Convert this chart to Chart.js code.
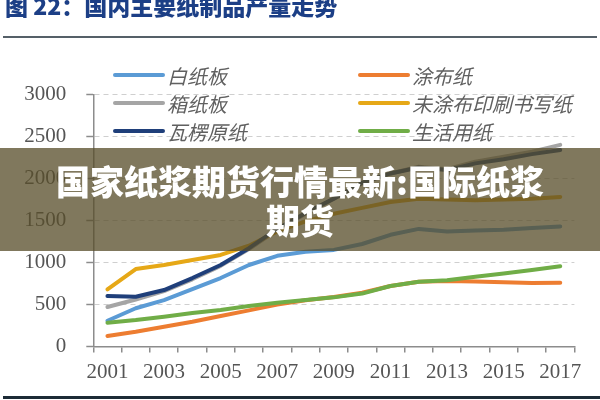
<!DOCTYPE html>
<html>
<head>
<meta charset="utf-8">
<script src="https://cdn.jsdelivr.net/npm/chart.js@4.4.1/dist/chart.umd.min.js"></script>
<style>
  html, body { margin: 0; padding: 0; background: #fff; }
  #wrap { width: 600px; height: 400px; }
</style>
</head>
<body>
<div id="wrap"><canvas id="paperChart"></canvas></div>
<script>
// 国内主要纸制品产量走势 (万吨)
const years = ['2001', '2002', '2003', '2004', '2005', '2006', '2007', '2008', '2009',
               '2010', '2011', '2012', '2013', '2014', '2015', '2016', '2017'];
const xTickLabels = ['2001', '2003', '2005', '2007', '2009', '2011', '2013', '2015', '2017'];
const yTicks = [0, 500, 1000, 1500, 2000, 2500, 3000];

const seriesNames = ['白纸板', '涂布纸', '箱纸板', '未涂布印刷书写纸', '瓦楞原纸', '生活用纸'];
const baiZhiBan   = [307, 455, 553, 684, 815, 970, 1080, 1128, 1150, 1220, 1330, 1400, 1370, 1380, 1390, 1410, 1430];
const tuBuZhi     = [125, 176, 236, 295, 363, 430, 500, 550, 590, 640, 720, 770, 780, 775, 765, 755, 760];
const xiangZhiBan = [470, 560, 660, 800, 960, 1160, 1390, 1580, 1760, 1940, 2060, 2140, 2110, 2200, 2260, 2320, 2400];
const weiTuBu     = [680, 922, 970, 1030, 1090, 1200, 1370, 1490, 1580, 1650, 1720, 1760, 1750, 1740, 1750, 1760, 1780];
const waLeng      = [600, 593, 672, 815, 970, 1170, 1400, 1590, 1760, 1950, 2060, 2130, 2100, 2180, 2230, 2290, 2340];
const shengHuo    = [283, 315, 355, 398, 434, 482, 521, 553, 585, 630, 720, 770, 790, 830, 870, 910, 955];

const seriesValues = [baiZhiBan, tuBuZhi, xiangZhiBan, weiTuBu, waLeng, shengHuo];
const seriesColors = ['#5b9bd5', '#ed7d31', '#a5a5a5', '#e6a817', '#1f3f7a', '#70ad47'];

const titleText = '图 22：国内主要纸制品产量走势';
const bannerLines = ['国家纸浆期货行情最新:国际纸浆', '期货'];

const datasets = seriesNames.map((name, i) => ({
    label: name,
    data: seriesValues[i],
    borderColor: seriesColors[i],
    backgroundColor: seriesColors[i],
    borderWidth: 4,
    pointRadius: 0,
    tension: 0,
    borderJoinStyle: 'round',
    borderCapStyle: 'round',
    order: seriesNames.length - 1 - i   // later series drawn on top
}));

// legend in two columns, title, rules and the overlay banner
const decor = {
    id: 'decor',
    afterDatasetsDraw(chart) {
        const ctx = chart.ctx;
        ctx.save();
        ctx.font = 'italic 20px "Noto Sans CJK SC"';
        ctx.textBaseline = 'middle';
        ctx.textAlign = 'left';
        chart.data.datasets.forEach((ds, i) => {
            const col = i % 2, row = Math.floor(i / 2);
            const x0 = col === 0 ? 115 : 360;
            const y = 75 + row * 28;
            ctx.strokeStyle = ds.borderColor;
            ctx.lineWidth = 4;
            ctx.lineCap = 'round';
            ctx.beginPath();
            ctx.moveTo(x0, y);
            ctx.lineTo(x0 + 48, y);
            ctx.stroke();
            ctx.fillStyle = '#606060';
            ctx.fillText(ds.label, x0 + 52, y + 1);
        });
        ctx.restore();
    },
    afterDraw(chart) {
        const ctx = chart.ctx;
        ctx.save();
        // title
        ctx.fillStyle = '#1c3f86';
        ctx.font = '900 23px "Noto Sans CJK SC"';
        ctx.textBaseline = 'alphabetic';
        ctx.textAlign = 'left';
        ctx.fillText(titleText, 5, 15);
        // rules
        ctx.strokeStyle = '#1d2b36';
        ctx.lineWidth = 1.5;
        ctx.beginPath();
        ctx.moveTo(3, 37);
        ctx.lineTo(597, 37);
        ctx.stroke();
        ctx.lineWidth = 3;
        ctx.beginPath();
        ctx.moveTo(3, 397.5);
        ctx.lineTo(600, 397.5);
        ctx.stroke();
        // banner
        ctx.fillStyle = 'rgba(88, 78, 42, 0.76)';
        ctx.fillRect(0, 148, 600, 103);
        ctx.fillStyle = '#ffffff';
        ctx.font = '900 34px "Noto Sans CJK SC"';
        ctx.textAlign = 'center';
        ctx.textBaseline = 'middle';
        ctx.fillText(bannerLines[0], 300, 182);
        ctx.fillText(bannerLines[1], 300, 221);
        ctx.restore();
    }
};

const ctxPaper = document.getElementById('paperChart').getContext('2d');
new Chart(ctxPaper, {
    type: 'line',
    data: { labels: years, datasets: datasets },
    plugins: [decor],
    options: {
        responsive: true,
        maintainAspectRatio: false,
        animation: false,
        layout: { padding: { left: 0, top: 94.5, right: 25.6, bottom: 13.5 } },
        plugins: {
            legend: { display: false },
            tooltip: { enabled: false }
        },
        scales: {
            x: {
                offset: true,
                afterFit(scale) { scale.height = 40; },
                grid: {
                    offset: true,
                    drawOnChartArea: false,
                    tickLength: 6,
                    color: '#8c8c8c',
                    lineWidth: 1.5
                },
                border: { color: '#8c8c8c', width: 1.5 },
                ticks: {
                    autoSkip: false,
                    maxRotation: 0,
                    padding: 7,
                    color: '#555555',
                    font: { family: '"Liberation Serif"', size: 21 },
                    callback(value) {
                        const lab = this.getLabelForValue(value);
                        return xTickLabels.includes(lab) ? lab : '';
                    }
                }
            },
            y: {
                min: yTicks[0],
                max: yTicks[yTicks.length - 1],
                afterFit(scale) { scale.width = 93.3; },
                afterBuildTicks(scale) { scale.ticks = yTicks.map(v => ({ value: v })); },
                grid: {
                    color: '#cfcfcf',
                    lineWidth: 1,
                    tickLength: 7,
                    tickColor: '#8c8c8c',
                    tickWidth: 1.5
                },
                border: { color: '#8c8c8c', width: 1.5, dash: [5, 4] },
                ticks: {
                    padding: 20,
                    color: '#555555',
                    font: { family: '"Liberation Serif"', size: 21 },
                    callback(value) { return String(value); }
                }
            }
        }
    }
});
</script>
</body>
</html>
